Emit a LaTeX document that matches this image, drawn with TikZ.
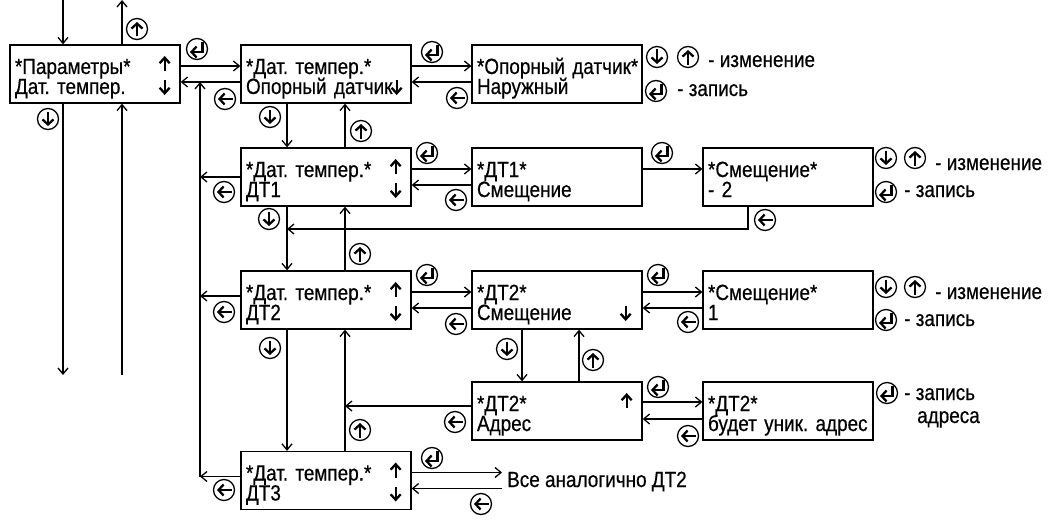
\documentclass[tikz,border=0pt]{standalone}
\usepackage{fontspec}
\setmainfont[FakeStretch=0.86, FakeBold=0.5]{Liberation Sans}
\usetikzlibrary{arrows.meta}
\frenchspacing

\tikzset{
  lcd/.style={draw, line width=1.3pt, minimum width=170pt, minimum height=58pt,
    text width=160pt, inner xsep=5pt, inner ysep=0pt, align=left,
    font=\fontsize{22}{20}\selectfont,
    execute at begin node={\lineskiplimit=-10pt\rule{0pt}{26pt}}, execute at end node=\strut},
  conn/.style={line width=1.3pt, -{Straight Barb[length=6pt,width=10pt]}},
  keyarr/.style={line width=2.3pt, -{Straight Barb[length=5pt,width=11pt]}},
  scrarr/.style={line width=2.3pt, -{Straight Barb[length=5.5pt,width=10pt]}},
  btn/.style={circle, draw, line width=1.3pt, minimum size=21pt, inner sep=0pt},
  bup/.style={btn, path picture={\draw[keyarr] ([yshift=-7.5pt]path picture bounding box.center) -- ([yshift=7pt]path picture bounding box.center);}},
  bdn/.style={btn, path picture={\draw[keyarr] ([yshift=7.5pt]path picture bounding box.center) -- ([yshift=-7pt]path picture bounding box.center);}},
  bbk/.style={btn, path picture={\draw[keyarr] ([xshift=7.5pt]path picture bounding box.center) -- ([xshift=-7pt]path picture bounding box.center);}},
  bent/.style={btn, path picture={\draw[keyarr] ([shift={(5.5pt,7pt)}]path picture bounding box.center) -- ([shift={(5.5pt,-3pt)}]path picture bounding box.center) -- ([shift={(-7pt,-3pt)}]path picture bounding box.center);}},
  txt/.style={font=\fontsize{22}{20}\selectfont, inner sep=0pt}
}

\begin{document}
\begin{tikzpicture}[x=1pt, y=-1pt]
        \useasboundingbox (0,0) rectangle (1056,519);

        % screens
        \node[lcd] (par) at (95,74) {*Параметры*\\Дат. темпер.};
        \node[lcd] (dtA) at (326,74) {*Дат. темпер.*\\Опорный~датчик};
        \node[lcd] (opor) at (557,74) {*Опорный~датчик*\\Наружный};
        \node[lcd] (dt1) at (326,177) {*Дат. темпер.*\\ДТ1};
        \node[lcd] (dt1sm) at (557,177) {*ДТ1*\\Смещение};
        \node[lcd] (sm1) at (788,177) {*Смещение*\\- 2};
        \node[lcd] (dt2) at (326,300) {*Дат. темпер.*\\ДТ2};
        \node[lcd] (dt2sm) at (557,300) {*ДТ2*\\Смещение};
        \node[lcd] (sm2) at (788,300) {*Смещение*\\1};
        \node[lcd] (dt2adr) at (557,411) {*ДТ2*\\Адрес};
        \node[lcd] (adr) at (788,411) {*ДТ2*\\будет~уник.~адрес};
        \node[lcd] (dt3) at (326,480.5) {*Дат. темпер.*\\ДТ3};
        \node[txt, anchor=base west, inner xsep=5pt] (vse) at (502,487) {Все аналогично ДТ2};

        % arrows shown on the screens
        \draw[scrarr] ([shift={(-16,-3)}]par.east) -- ++(0,-15);
        \draw[scrarr] ([shift={(-16,6)}]par.east) -- ++(0,15);
        \draw[scrarr] ([shift={(-15,6)}]dtA.east) -- ++(0,15);
        \draw[scrarr] ([shift={(-16,-3)}]dt1.east) -- ++(0,-15);
        \draw[scrarr] ([shift={(-16,6)}]dt1.east) -- ++(0,15);
        \draw[scrarr] ([shift={(-16,-3)}]dt2.east) -- ++(0,-15);
        \draw[scrarr] ([shift={(-16,6)}]dt2.east) -- ++(0,15);
        \draw[scrarr] ([shift={(-17,6)}]dt2sm.east) -- ++(0,15);
        \draw[scrarr] ([shift={(-16,-3)}]dt2adr.east) -- ++(0,-15);
        \draw[scrarr] ([shift={(-16,-3)}]dt3.east) -- ++(0,-15);
        \draw[scrarr] ([shift={(-16,6)}]dt3.east) -- ++(0,15);

        % in and out of the menu
        \coordinate (inTop) at (63,0);
        \coordinate (outTop) at (122,0);
        \coordinate (outBot) at (63,375);
        \coordinate (inBot) at (122,375);
        \draw[conn] (inTop) -- (inTop |- par.north);
        \draw[conn] (outTop |- par.north) -- (outTop);
        \draw[conn] (outBot |- par.south) -- (outBot);
        \draw[conn] (inBot) -- (inBot |- par.south);

        % first row
        \draw[conn] ([yshift=8pt]par.east) -- ([yshift=8pt]dtA.west);
        \draw[conn] ([yshift=-8pt]dtA.west) -- ([yshift=-8pt]par.east);
        \draw[conn] ([yshift=8pt]dtA.east) -- ([yshift=8pt]opor.west);
        \draw[conn] ([yshift=-8pt]opor.west) -- ([yshift=-8pt]dtA.east);

        % way back to the top
        \coordinate (bus) at (200,0);
        \coordinate (r0) at ([yshift=-8pt]par.east);
        \coordinate (r1) at (dt1.west);
        \coordinate (r2) at ([yshift=4pt]dt2.west);
        \coordinate (r3) at ([yshift=4pt]dt3.west);
        \draw[conn] (r1) -- (r1 -| bus);
        \draw[conn] (r2) -- (r2 -| bus);
        \draw[conn] (r3) -- (r3 -| bus);
        \draw[conn] (r3 -| bus) -- (r0 -| bus);

        % down and up the sensor list
        \draw[conn] ([xshift=-39pt]dtA.south) -- ([xshift=-39pt]dt1.north);
        \draw[conn] ([xshift=19pt]dt1.north) -- ([xshift=19pt]dtA.south);
        \draw[conn] ([xshift=-39pt]dt1.south) -- ([xshift=-39pt]dt2.north);
        \draw[conn] ([xshift=19pt]dt2.north) -- ([xshift=19pt]dt1.south);
        \draw[conn] ([xshift=-39pt]dt2.south) -- ([xshift=-39pt]dt3.north);
        \draw[conn] ([xshift=19pt]dt3.north) -- ([xshift=19pt]dt2.south);

        % second row
        \draw[conn] ([yshift=8pt]dt1.east) -- ([yshift=8pt]dt1sm.west);
        \draw[conn] ([yshift=-8pt]dt1sm.west) -- ([yshift=-8pt]dt1.east);
        \draw[conn] ([yshift=8pt]dt1sm.east) -- ([yshift=8pt]sm1.west);
        \coordinate (j1) at (287,229);
        \draw[conn] ([xshift=-40pt]sm1.south) |- (j1);

        % third row
        \draw[conn] ([yshift=8pt]dt2.east) -- ([yshift=8pt]dt2sm.west);
        \draw[conn] ([yshift=-8pt]dt2sm.west) -- ([yshift=-8pt]dt2.east);
        \draw[conn] ([yshift=8pt]dt2sm.east) -- ([yshift=8pt]sm2.west);
        \draw[conn] ([yshift=-8pt]sm2.west) -- ([yshift=-8pt]dt2sm.east);
        \draw[conn] ([xshift=-35pt]dt2sm.south) -- ([xshift=-35pt]dt2adr.north);
        \draw[conn] ([xshift=22pt]dt2adr.north) -- ([xshift=22pt]dt2sm.south);

        % address row
        \draw[conn] ([yshift=9pt]dt2adr.east) -- ([yshift=9pt]adr.west);
        \draw[conn] ([yshift=-8pt]adr.west) -- ([yshift=-8pt]dt2adr.east);
        \coordinate (j2) at (345,406);
        \draw[conn] ([yshift=5pt]dt2adr.west) -- (j2);

        % last sensor
        \coordinate (v1) at ([yshift=8pt]dt3.east);
        \coordinate (v2) at ([yshift=-8pt]dt3.east);
        \draw[conn] (v1) -- (v1 -| vse.west);
        \draw[conn] (v2 -| vse.west) -- (v2);

        % keys
        \node[bup] (kp1) at (137,29) {};
        \node[bdn] (kp2) at (48,119) {};
        \node[bent] (kp3) at (197,49) {};
        \node[bbk] (kp4) at (225,99) {};

        \node[bdn] (ka1) at (270,117) {};
        \node[bup] (ka2) at (361,131) {};
        \node[bent] (ka3) at (432,52) {};
        \node[bbk] (ka4) at (457,98) {};

        \node[bbk] (kb1) at (224,192) {};
        \node[bent] (kb2) at (427,153) {};
        \node[bbk] (kb3) at (456,200) {};
        \node[bent] (kb4) at (662,153) {};
        \node[bbk] (kb5) at (765,220) {};
        \node[bdn] (kb6) at (269,219) {};
        \node[bup] (kb7) at (360,254) {};

        \node[bbk] (kc1) at (224,312) {};
        \node[bent] (kc2) at (427,275) {};
        \node[bbk] (kc3) at (456,324) {};
        \node[bent] (kc4) at (658,275) {};
        \node[bbk] (kc5) at (688,322) {};
        \node[bdn] (kc6) at (270,348) {};
        \node[bdn] (kc7) at (507,349) {};
        \node[bup] (kc8) at (593,360) {};

        \node[bbk] (kd1) at (455,422) {};
        \node[bent] (kd2) at (658,387) {};
        \node[bbk] (kd3) at (688,436) {};
        \node[bup] (kd4) at (360,430) {};

        \node[bbk] (ke1) at (224,490) {};
        \node[bent] (ke2) at (432,458) {};
        \node[bbk] (ke3) at (481,504) {};

        % what the keys do
        \node[bdn] (la1) at (657,57) {};
        \node[bup] (la2) at (688,57) {};
        \node[bent] (la3) at (656,91) {};
        \node[txt, anchor=base west] (ta1) at (708,67) {- изменение};
        \node[txt, anchor=base west] (ta2) at (677,96) {- запись};

        \node[bdn] (lb1) at (886,158) {};
        \node[bup] (lb2) at (915,158) {};
        \node[bent] (lb3) at (886,192) {};
        \node[txt, anchor=base west] (tb1) at (935,170) {- изменение};
        \node[txt, anchor=base west] (tb2) at (904,197) {- запись};

        \node[bdn] (lc1) at (886,287) {};
        \node[bup] (lc2) at (915,287) {};
        \node[bent] (lc3) at (886,320) {};
        \node[txt, anchor=base west] (tc1) at (935,299) {- изменение};
        \node[txt, anchor=base west] (tc2) at (904,326) {- запись};

        \node[bent] (ld1) at (887,393) {};
        \node[txt, anchor=base west] (td1) at (904,400) {- запись};
        \node[txt, anchor=base west] (td2) at (917,423) {адреса};
    \end{tikzpicture}
\end{document}
